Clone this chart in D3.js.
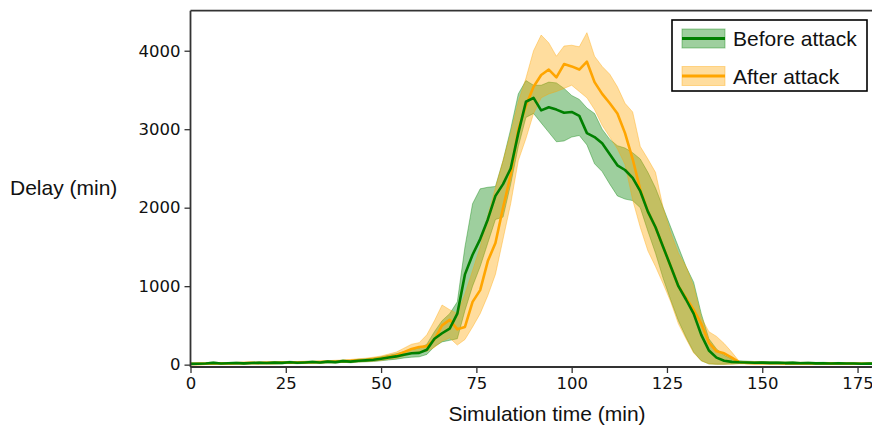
<!DOCTYPE html>
<html><head><meta charset="utf-8">
<script src="https://cdn.jsdelivr.net/npm/d3@7"></script>
<style>body{margin:0;background:#fff}svg{display:block}</style>
</head><body>
<script>
// ---- data ----
const time = d3.range(0, 181, 2);
const beforeMean = [10,12,15,22,14,18,20,16,20,24,
 20,26,22,30,24,28,34,28,38,32,
 45,38,50,55,62,75,90,105,125,145,
 150,190,330,400,460,650,1150,1400,1600,1850,
 2150,2300,2500,2950,3350,3400,3240,3280,3250,3210,
 3220,3170,2950,2900,2820,2680,2540,2480,2380,2210,
 1950,1750,1500,1250,1000,830,650,380,180,90,
 50,35,30,28,25,26,22,24,20,22,
 18,20,16,18,15,16,14,15,12,13,
 12];
const beforeLow = [0,2,5,10,4,8,8,6,10,12,
 10,14,12,16,12,16,20,16,24,20,
 30,24,32,36,40,50,60,70,85,95,
 100,130,230,290,310,330,690,1000,1250,1550,
 1850,1880,2300,2780,3150,3200,3080,2960,2840,2850,
 2900,2920,2800,2560,2460,2300,2150,2110,2090,2000,
 1700,1420,1100,820,560,350,160,50,10,5,
 5,10,15,14,12,13,10,12,8,10,
 8,9,6,8,5,6,4,5,3,4,
 3];
const beforeHigh = [20,22,25,34,24,28,32,26,30,36,
 30,38,32,44,36,40,48,40,52,44,
 60,52,68,74,84,100,120,140,165,195,
 210,260,420,560,650,800,1500,2050,2240,2260,
 2270,2600,3000,3450,3620,3560,3560,3600,3590,3520,
 3430,3380,3270,3200,3000,2870,2790,2760,2700,2620,
 2450,2250,2000,1750,1500,1250,1050,650,330,200,
 120,70,50,44,40,40,36,38,34,36,
 30,32,28,30,26,28,24,26,22,24,
 22];
const afterMean = [8,10,12,14,16,14,18,20,22,20,
 24,22,26,24,28,30,30,34,36,40,
 44,48,55,60,70,80,100,120,160,200,
 225,235,320,500,570,450,480,800,950,1320,
 1550,2000,2420,3000,3300,3540,3690,3760,3660,3830,
 3800,3760,3860,3600,3450,3330,3200,2950,2620,2230,
 1950,1750,1500,1250,1000,850,700,520,280,170,
 145,90,30,22,20,20,18,18,16,16,
 15,15,14,14,13,13,12,12,11,11,
 10];
const afterLow = [0,0,2,4,6,4,8,10,10,10,
 12,12,14,14,16,16,18,20,22,24,
 28,30,35,40,45,55,70,80,110,140,
 160,170,220,300,340,250,320,480,650,880,
 1150,1600,2050,2600,2880,3200,3400,3450,3480,3520,
 3560,3480,3400,3250,3050,2900,2750,2550,2100,1750,
 1450,1250,1030,800,520,330,150,50,10,5,
 5,5,10,10,10,10,8,8,8,8,
 6,6,6,6,5,5,4,4,4,4,
 4];
const afterHigh = [18,20,22,24,26,24,28,30,32,30,
 36,32,38,34,40,44,42,48,50,56,
 60,66,75,82,95,110,135,160,210,260,
 280,380,560,760,700,650,900,1200,1500,1900,
 2250,2600,2950,3350,3650,4000,4200,4100,3930,4060,
 4070,4050,4230,3930,3800,3700,3540,3330,3220,2780,
 2620,2450,2000,1680,1420,1250,1000,600,420,360,
 270,160,40,36,36,34,34,32,32,30,
 30,28,28,26,26,24,24,22,22,22,
 20];
const xTicks = [0,25,50,75,100,125,150,175];
const yTicks = [0,1000,2000,3000,4000];
const seriesNames = ["Before attack","After attack"];
const seriesColors = ["#008000","#ffa500"];

// ---- layout ----
const W = 872, H = 429;
const svg = d3.select("body").append("svg").attr("width", W).attr("height", H);
svg.append("rect").attr("width", W).attr("height", H).attr("fill", "#fff");

const x = d3.scaleLinear().domain([0, 180]).range([190.5, 876.6]);
const y = d3.scaleLinear().domain([-30, 4510]).range([367, 10.7]);

const series = [
  {name: seriesNames[0], color: seriesColors[0], mean: beforeMean, lo: beforeLow, hi: beforeHigh},
  {name: seriesNames[1], color: seriesColors[1], mean: afterMean, lo: afterLow, hi: afterHigh}
];

const clip = svg.append("clipPath").attr("id","plotclip").append("rect")
  .attr("x", 190.5).attr("y", 10.7).attr("width", W - 190.5).attr("height", 367 - 10.7);
const plot = svg.append("g").attr("clip-path","url(#plotclip)");

const area = s => d3.area()
  .x((d,i) => x(time[i]))
  .y0((d,i) => y(s.lo[i]))
  .y1((d,i) => y(s.hi[i]));
const line = s => d3.line()
  .x((d,i) => x(time[i]))
  .y((d,i) => y(s.mean[i]));

// bands
series.forEach(s => {
  plot.append("path").datum(s.mean).attr("d", area(s))
    .attr("fill", s.color).attr("fill-opacity", 0.38)
    .attr("stroke", s.color).attr("stroke-opacity", 0.38).attr("stroke-width", 1);
});
// lines: orange first, green on top
[series[1], series[0]].forEach(s => {
  plot.append("path").datum(s.mean).attr("d", line(s))
    .attr("fill","none").attr("stroke", s.color).attr("stroke-width", 2.6)
    .attr("stroke-linejoin","round");
});

// axes
const axisColor = "#333";
const xAxis = svg.append("g").attr("transform", "translate(0,367)")
  .call(d3.axisBottom(x).tickValues(xTicks).tickSize(6).tickPadding(4).tickFormat(d3.format("d")));
const yAxis = svg.append("g").attr("transform", "translate(190.5,0)")
  .call(d3.axisLeft(y).tickValues(yTicks).tickSize(6).tickPadding(4).tickFormat(d3.format("d")));
[xAxis, yAxis].forEach(a => {
  a.select(".domain").remove();
  a.selectAll(".tick line").attr("stroke", axisColor).attr("stroke-width", 1.3);
  a.selectAll(".tick text").attr("fill", "#111")
    .style("font-family", "'DejaVu Sans', sans-serif").style("font-size", "16.5px");
});
// spines
svg.append("line").attr("x1", 190.5).attr("x2", 190.5).attr("y1", 10.7).attr("y2", 367)
  .attr("stroke", axisColor).attr("stroke-width", 1.8);
svg.append("line").attr("x1", 190.5).attr("x2", W).attr("y1", 367).attr("y2", 367)
  .attr("stroke", axisColor).attr("stroke-width", 1.8);
svg.append("line").attr("x1", 190.5).attr("x2", W).attr("y1", 10.7).attr("y2", 10.7)
  .attr("stroke", axisColor).attr("stroke-width", 1.8);

// axis labels
svg.append("text").attr("x", 10).attr("y", 195)
  .style("font-family","'Liberation Sans', Arial, sans-serif").style("font-size","21px")
  .attr("fill","#111").text("Delay (min)");
svg.append("text").attr("x", 547).attr("y", 421).attr("text-anchor","middle")
  .style("font-family","'Liberation Sans', Arial, sans-serif").style("font-size","21px")
  .attr("fill","#111").text("Simulation time (min)");

// legend
const lg = svg.append("g");
lg.append("rect").attr("x", 672).attr("y", 20).attr("width", 195).attr("height", 71)
  .attr("fill", "#fff").attr("stroke", "#000").attr("stroke-width", 1.6);
const rowsY = [38.5, 76];
series.forEach((s, i) => {
  const cy = rowsY[i];
  lg.append("rect").attr("x", 682).attr("y", cy - 9.5).attr("width", 43).attr("height", 19)
    .attr("fill", s.color).attr("fill-opacity", 0.38)
    .attr("stroke", s.color).attr("stroke-opacity", 0.38);
  lg.append("line").attr("x1", 682).attr("x2", 725).attr("y1", cy).attr("y2", cy)
    .attr("stroke", s.color).attr("stroke-width", 2.8);
  lg.append("text").attr("x", 733).attr("y", cy + 7.5)
    .style("font-family","'Liberation Sans', Arial, sans-serif").style("font-size","21px")
    .attr("fill","#111").text(s.name);
});
</script>
</body></html>
